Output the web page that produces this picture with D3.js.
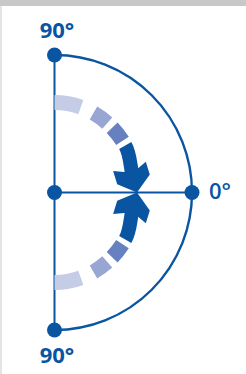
<!DOCTYPE html>
<html>
<head>
<meta charset="utf-8">
<script src="https://cdn.jsdelivr.net/npm/d3@7"></script>
<style>
  html, body { margin: 0; padding: 0; background: #fff; }
  svg { display: block; }
</style>
</head>
<body>
<svg id="chart" width="246" height="374"></svg>
<script>
// axis points of the half circle, degrees
var axisAngles = [90, 0, -90];
var axisLabels = ["90°", "0°", "90°"];
// dashed movement band: start / end angle of each dash (top half, mirrored below)
var dashFrom = [90, 62, 46];
var dashTo = [71.5, 50.5, 35];
var dashColors = ["#c4cce6", "#98a6d3", "#6680c0"];
// arrow shaft starts here and ends at 0 deg
var arrowFrom = 31.5;
var arrowTo = 0;

var blue = "#0a55a1";
var svg = d3.select("#chart");

// frame strips of the scan
svg.append("rect").attr("x", 0).attr("y", 0).attr("width", 246).attr("height", 6).attr("fill", "#c8c8c8");
svg.append("rect").attr("x", 0).attr("y", 6).attr("width", 2).attr("height", 368).attr("fill", "#e4e4e4");

var cx = 54.5, cy = 192.5, R = 137.5;
var rx = 83, ry = 90;        // band ellipse
var rTip = 82.5;             // where the arrow tips meet

var rad = d3.scaleLinear().domain([0, 90]).range([0, Math.PI / 2]);
function pt(a, ax, ay) {
    return [cx + ax * Math.cos(rad(a)), cy - ay * Math.sin(rad(a))];
}

// outline: vertical diameter, radius to 0 deg, half circle
svg.append("line").attr("x1", cx).attr("y1", cy - R).attr("x2", cx).attr("y2", cy + R)
    .attr("stroke", blue).attr("stroke-width", 2);
svg.append("line").attr("x1", cx).attr("y1", cy).attr("x2", cx + R).attr("y2", cy)
    .attr("stroke", blue).attr("stroke-width", 2);
var arcTop = pt(90, R, R), arcBot = pt(-90, R, R);
svg.append("path")
    .attr("d", "M" + arcTop + " A" + R + "," + R + " 0 0 1 " + arcBot)
    .attr("fill", "none").attr("stroke", blue).attr("stroke-width", 2.4);

// one half of the movement band, mirrored for the other
function drawBand(g) {
    g.selectAll("path.dash")
        .data(dashFrom)
        .enter().append("path")
        .attr("class", "dash")
        .attr("d", function (a, i) {
            return "M" + pt(a, rx, ry) + " A" + rx + "," + ry + " 0 0 1 " + pt(dashTo[i], rx, ry);
        })
        .attr("fill", "none")
        .attr("stroke", function (d, i) { return dashColors[i]; })
        .attr("stroke-width", 15);

    // arrow head, pointing 15deg off vertical
    var tip = pt(arrowTo, rTip, rTip);
    var tilt = 15 * Math.PI / 180;
    var f = [Math.sin(tilt), Math.cos(tilt)];
    var p0 = pt(arrowFrom, rx, ry);
    var t0 = rad(arrowFrom);
    var d0 = [rx * Math.sin(t0), ry * Math.cos(t0)];
    var n0 = Math.hypot(d0[0], d0[1]);
    d0 = [d0[0] / n0, d0[1] / n0];
    var p3 = [tip[0] - 16 * f[0], tip[1] - 16 * f[1]];
    var k = 11;
    var p1 = [p0[0] + k * d0[0], p0[1] + k * d0[1]];
    var p2 = [p3[0] - k * f[0], p3[1] - k * f[1]];
    var shaft = d3.path();
    shaft.moveTo(p0[0], p0[1]);
    shaft.bezierCurveTo(p1[0], p1[1], p2[0], p2[1], p3[0], p3[1]);
    g.append("path").attr("d", shaft.toString())
        .attr("fill", "none").attr("stroke", blue).attr("stroke-width", 14);

    var head = [[0, 0], [-13, 17], [-27, 17.5], [-23, 7], [-23, -7], [-27.5, -16.5], [-14, -17]];
    g.append("polygon")
        .attr("points", head.map(function (p) { return p.join(","); }).join(" "))
        .attr("transform", "translate(" + tip + ") rotate(" + (90 - 15) + ")")
        .attr("fill", blue);
}
drawBand(svg.append("g"));
drawBand(svg.append("g").attr("transform", "translate(0," + (2 * cy) + ") scale(1,-1)"));

// axis dots
svg.selectAll("circle.axis")
    .data(axisAngles.concat([null]))
    .enter().append("circle")
    .attr("class", "axis")
    .attr("cx", function (a) { return a === null ? cx : pt(a, R, R)[0]; })
    .attr("cy", function (a) { return a === null ? cy : pt(a, R, R)[1]; })
    .attr("r", 7.5)
    .attr("fill", blue);

// labels
var labelPos = [[57, 38, "middle", 700], [209, 199, "start", 600], [57, 363, "middle", 700]];
svg.selectAll("text.lab")
    .data(axisLabels)
    .enter().append("text")
    .attr("class", "lab")
    .attr("x", function (d, i) { return labelPos[i][0]; })
    .attr("y", function (d, i) { return labelPos[i][1]; })
    .attr("text-anchor", function (d, i) { return labelPos[i][2]; })
    .attr("font-weight", function (d, i) { return labelPos[i][3]; })
    .attr("font-family", "'Open Sans', sans-serif")
    .attr("font-size", 22)
    .attr("fill", blue)
    .text(function (d) { return d; });
</script>
</body>
</html>
